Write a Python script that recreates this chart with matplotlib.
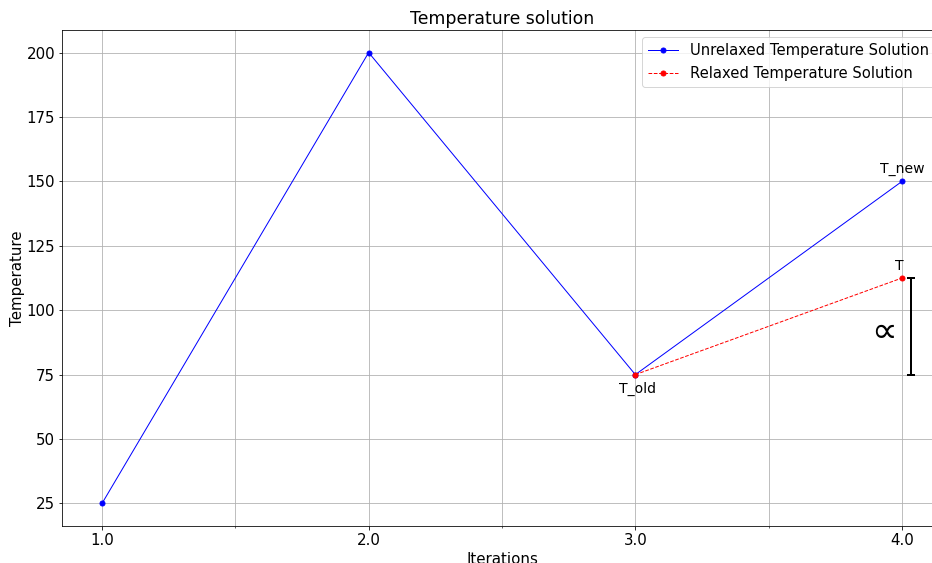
import matplotlib
matplotlib.use("Agg")
import matplotlib.pyplot as plt
from matplotlib.ticker import MultipleLocator, FormatStrFormatter

iterations = [1.0, 2.0, 3.0, 4.0]
unrelaxed = [25, 200, 75, 150]
relaxed_iter = [3.0, 4.0]
relaxed = [75, 112.5]
bar_x = 4.035
bar_low = 75
bar_high = 112.5

DPI = 72
fig = plt.figure(figsize=(932 / DPI, 563 / DPI), dpi=DPI)
ax = fig.add_axes([62 / 932, 37 / 563, 880 / 932, 496 / 563])

ax.plot(iterations, unrelaxed, 'b-', marker='o', markersize=5, linewidth=1,
        label='Unrelaxed Temperature Solution')
ax.plot(relaxed_iter, relaxed, 'r--', marker='o', markersize=5, linewidth=1,
        label='Relaxed Temperature Solution')
ax.set_xlim(0.85, 4.15)

ax.errorbar(bar_x, (bar_low + bar_high) / 2, yerr=(bar_high - bar_low) / 2,
            color='k', capsize=4, linewidth=2, capthick=2)

ax.text(4.0, 152, 'T_new', ha='center', va='bottom', fontsize=14)
ax.text(3.99, 114.5, 'T', ha='center', va='bottom', fontsize=14)
ax.text(3.01, 72, 'T_old', ha='center', va='top', fontsize=14)
ax.text(3.915, 92.5, r'$\propto$', ha='center', va='center', fontsize=36)

ax.xaxis.set_major_locator(MultipleLocator(1))
ax.xaxis.set_minor_locator(MultipleLocator(0.5))
ax.xaxis.set_major_formatter(FormatStrFormatter('%.1f'))
ax.tick_params(labelsize=15)
ax.grid(True, which='major')
ax.grid(True, which='minor', axis='x')

ax.set_title('Temperature solution', fontsize=17.3)
ax.set_xlabel('Iterations', fontsize=15)
ax.set_ylabel('Temperature', fontsize=15, labelpad=1)
ax.legend(loc='upper right', fontsize=14.8)

fig.savefig('out.png', dpi=DPI)
